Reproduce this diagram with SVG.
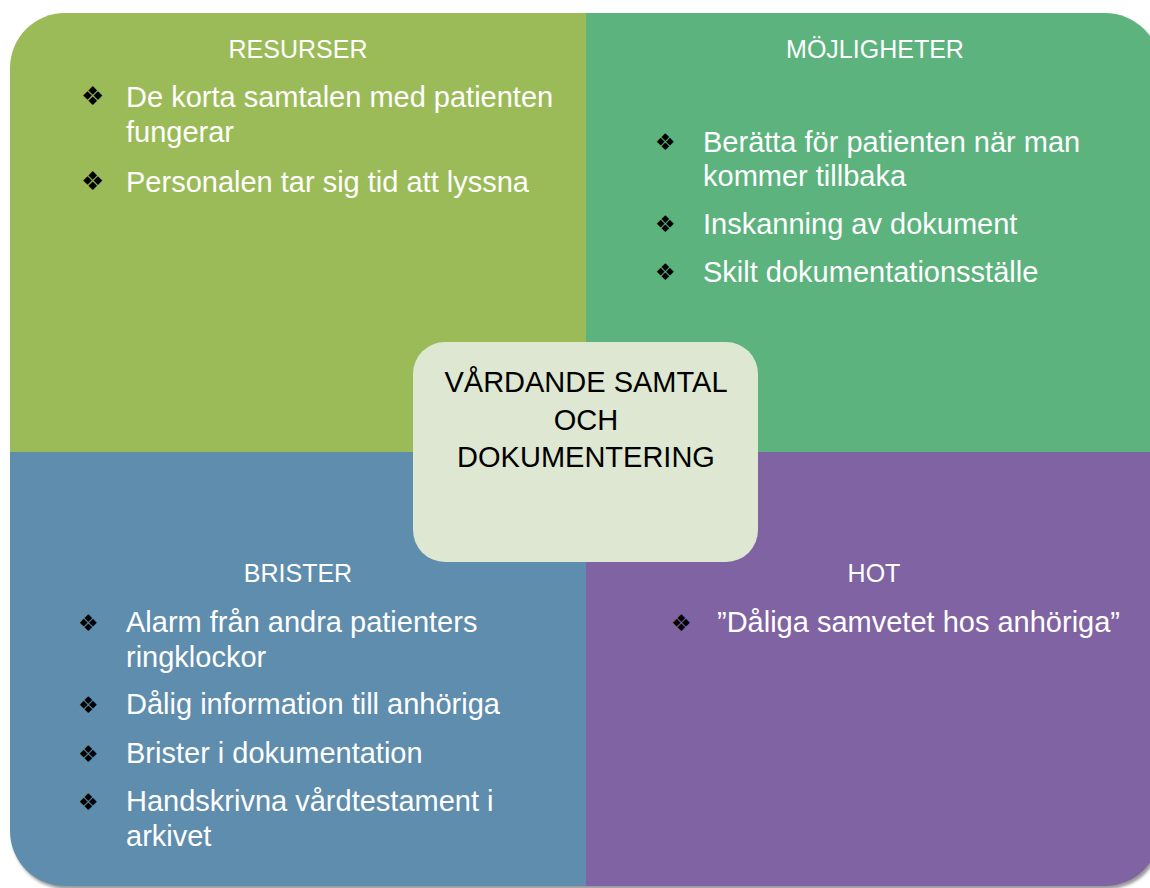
<svg xmlns="http://www.w3.org/2000/svg" width="1150" height="888" viewBox="0 0 1150 888">
<defs>
<filter id="sh" x="-5%" y="-5%" width="110%" height="110%">
<feGaussianBlur in="SourceAlpha" stdDeviation="1.5"/>
<feOffset dx="2" dy="3" result="b"/>
<feFlood flood-color="#999"/>
<feComposite in2="b" operator="in" result="s"/>
<feMerge><feMergeNode in="s"/><feMergeNode in="SourceGraphic"/></feMerge>
</filter>
</defs>
<style>
.t{font-family:"Liberation Sans",Arial,sans-serif;font-size:29px;fill:#fff}
.h{font-family:"Liberation Sans",Arial,sans-serif;font-size:25px;fill:#fff;text-anchor:middle}
.c{font-family:"Liberation Sans",Arial,sans-serif;font-size:29px;fill:#000;text-anchor:middle}
.b{font-family:"DejaVu Sans",sans-serif;font-size:23px;fill:#000}
.bl{font-family:"DejaVu Sans",sans-serif;font-size:26px;fill:#000}
</style>
<rect width="1150" height="888" fill="#fff"/>
<g filter="url(#sh)">
<g id="resurser">
<path d="M10,452 V68 A55,55 0 0 1 65,13 H586 V452 Z" fill="#9BBB59"/>
</g>
<g id="mojligheter">
<path d="M586,13 H1105 A55,55 0 0 1 1160,68 V452 H586 Z" fill="#5BB37E"/>
</g>
<g id="brister">
<path d="M10,452 H586 V886 H65 A55,55 0 0 1 10,831 Z" fill="#5F8DAD"/>
</g>
<g id="hot">
<path d="M586,452 H1160 V831 A55,55 0 0 1 1105,886 H586 Z" fill="#8064A2"/>
</g>
</g>
<g id="texts-resurser">
<text class="h" x="298" y="58">RESURSER</text>
<text class="bl" x="81" y="105">❖</text>
<text class="t" x="126" y="107">De korta samtalen med patienten</text>
<text class="t" x="126" y="142">fungerar</text>
<text class="bl" x="81" y="190">❖</text>
<text class="t" x="126" y="192">Personalen tar sig tid att lyssna</text>
</g>
<g id="texts-mojligheter">
<text class="h" x="875" y="58">MÖJLIGHETER</text>
<text class="b" x="655" y="150">❖</text>
<text class="t" x="703" y="152">Berätta för patienten när man</text>
<text class="t" x="703" y="186">kommer tillbaka</text>
<text class="b" x="655" y="232">❖</text>
<text class="t" x="703" y="234">Inskanning av dokument</text>
<text class="b" x="655" y="280">❖</text>
<text class="t" x="703" y="282">Skilt dokumentationsställe</text>
</g>
<g id="texts-brister">
<text class="h" x="298" y="582">BRISTER</text>
<text class="b" x="78" y="631">❖</text>
<text class="t" x="126" y="632">Alarm från andra patienters</text>
<text class="t" x="126" y="667">ringklockor</text>
<text class="b" x="78" y="713">❖</text>
<text class="t" x="126" y="714">Dålig information till anhöriga</text>
<text class="b" x="78" y="762">❖</text>
<text class="t" x="126" y="763">Brister i dokumentation</text>
<text class="b" x="78" y="810">❖</text>
<text class="t" x="126" y="811">Handskrivna vårdtestament i</text>
<text class="t" x="126" y="846">arkivet</text>
</g>
<g id="texts-hot">
<text class="h" x="874" y="582">HOT</text>
<text class="b" x="671" y="631">❖</text>
<text class="t" x="717" y="632">”Dåliga samvetet hos anhöriga”</text>
</g>
<g id="center">
<rect x="413" y="342" width="345" height="220" rx="32" fill="#DEE7D1"/>
<text class="c" x="586" y="392">VÅRDANDE SAMTAL</text>
<text class="c" x="586" y="430">OCH</text>
<text class="c" x="586" y="467">DOKUMENTERING</text>
</g>
<g id="connectors"></g>
</svg>
